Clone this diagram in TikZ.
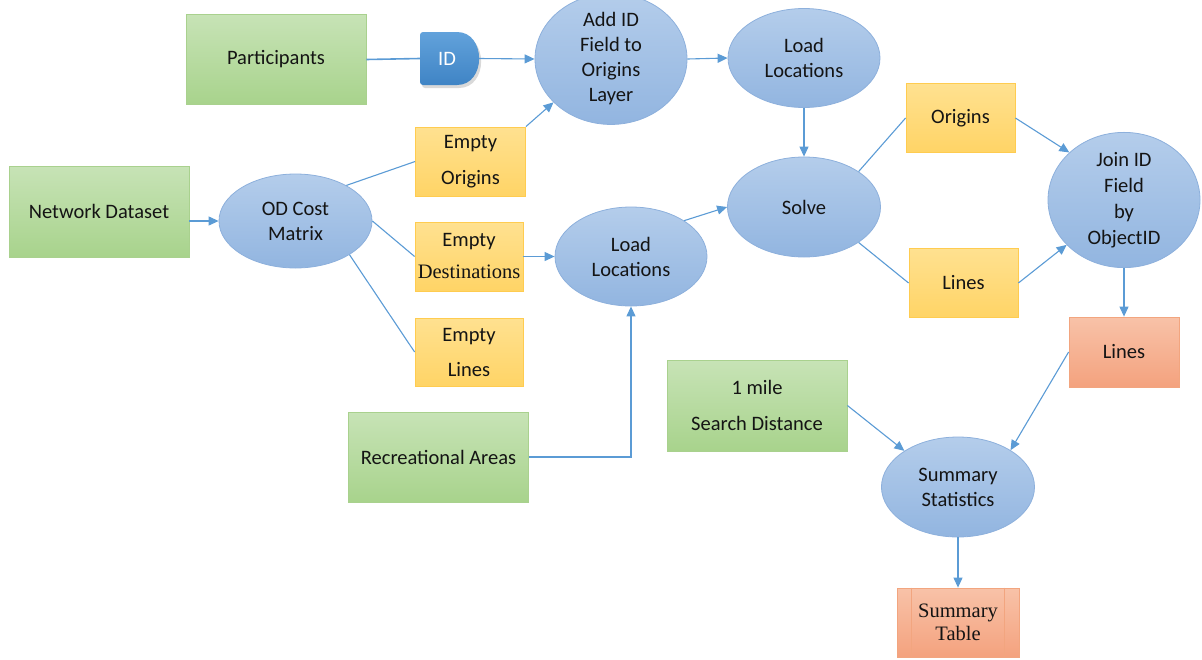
\documentclass[tikz,border=0pt]{standalone}
\usepackage{fontspec}
\setmainfont{Carlito}
\newfontfamily\serifface{Liberation Serif}
\usetikzlibrary{shapes.geometric,arrows.meta,calc}

\definecolor{grnT}{HTML}{C7E3B6}
\definecolor{grnD}{HTML}{A8D38C}
\definecolor{grnB}{HTML}{A9D18E}
\definecolor{ylwT}{HTML}{FFE190}
\definecolor{ylwD}{HTML}{FFD466}
\definecolor{ylwB}{HTML}{FFCC50}
\definecolor{bluT}{HTML}{B4CDEB}
\definecolor{bluD}{HTML}{92B5E0}
\definecolor{bluB}{HTML}{8DB0DC}
\definecolor{salT}{HTML}{F8C2A8}
\definecolor{salD}{HTML}{F4A27E}
\definecolor{salB}{HTML}{F2A57F}
\definecolor{idT}{HTML}{62A2DB}
\definecolor{idD}{HTML}{3F84C5}
\definecolor{link}{HTML}{5B9BD5}

\begin{document}
\begin{tikzpicture}[x=1pt,y=-1pt,
  every node/.style={font=\fontsize{20.5}{25}\selectfont, text=black!92, align=center, inner sep=0pt},
  greenbox/.style={rectangle, draw=grnB, line width=0.8pt, top color=grnT, bottom color=grnD,
    minimum width=180pt, minimum height=90pt},
  yellowbox/.style={rectangle, draw=ylwB, line width=0.8pt, top color=ylwT, bottom color=ylwD,
    minimum width=109pt, minimum height=69pt, font=\fontsize{20.5}{36}\selectfont},
  salmonbox/.style={rectangle, draw=salB, line width=0.8pt, top color=salT, bottom color=salD,
    minimum height=69pt},
  process/.style={ellipse, draw=bluB, line width=0.8pt, top color=bluT, bottom color=bluD,
    minimum width=152pt, minimum height=99pt},
  link/.style={draw=link, line width=1.1pt},
  arr/.style={link, -{Triangle[length=10pt,width=9pt]}}
]
\useasboundingbox (0,0) rectangle (1202,659);

% input data
\node[greenbox] (part) at (276,59.5) {Participants};
\node[greenbox, minimum height=91pt] (net) at (99,211.5) {Network Dataset};
\node[greenbox] (rec) at (438.5,457) {Recreational Areas};
\node[greenbox, minimum height=91pt, font=\fontsize{20.5}{36}\selectfont] (mile) at (757,405.5) {1 mile\\Search Distance};

% ID field tag with a soft shadow
\fill[black!15] (459,35) .. controls (488.5,35) and (488.5,88) .. (459,88)
  [rounded corners=3pt] -- (422,88) -- (422,35) [sharp corners] -- cycle;
\shade[top color=idT, bottom color=idD] (457,32) .. controls (486.5,32) and (486.5,85) .. (457,85)
  [rounded corners=3pt] -- (420,85) -- (420,32) [sharp corners] -- cycle;
\node[text=white, minimum width=59pt, minimum height=53pt] (id) at (449.5,58.5) {ID\hspace{5pt}};

% processes
\node[process, minimum height=102pt] (addid) at (611,59) {Add ID\\Field to\\Origins\\Layer};
\node[process] (lltop) at (804,58) {Load\\Locations};
\node[process, minimum height=94pt, minimum width=153pt] (od) at (295.5,221) {OD Cost\\Matrix};
\node[process] (llbot) at (631,256.5) {Load\\Locations};
\node[process, minimum width=153pt, minimum height=100pt] (solve) at (804,207) {Solve};
\node[process, minimum height=116pt, font=\fontsize{20.5}{26}\selectfont] (join) at (1124,200) {Join ID\\Field\\by\\ObjectID};
\node[process, minimum width=153pt, minimum height=100pt] (summ) at (958,487) {Summary\\Statistics};

% intermediate layers
\node[yellowbox, minimum width=110pt] (eorig) at (470.5,161.5) {Empty\\Origins};
\node[yellowbox, minimum width=108pt, font=\fontsize{20.5}{32}\selectfont] (edest) at (469,256.5) {Empty\\{\serifface Destinations}};
\node[yellowbox, minimum width=108pt, minimum height=68pt, font=\fontsize{20.5}{35}\selectfont] (elines) at (469,352) {Empty\\Lines};
\node[yellowbox] (orig) at (960.5,118) {Origins};
\node[yellowbox] (lines) at (963.5,283) {Lines};

% outputs
\node[salmonbox, minimum width=110pt, minimum height=70pt] (linesout) at (1124,352) {Lines};
\node[salmonbox, minimum width=122pt, font=\fontsize{20.5}{23}\selectfont] (table) at (958,622.5)
  {{\serifface Summary}\\{\serifface Table}};
\draw[salB, line width=0.8pt] ($(table.north west)+(15,0)$) -- ($(table.south west)+(15,0)$);
\draw[salB, line width=0.8pt] ($(table.north east)+(-15,0)$) -- ($(table.south east)+(-15,0)$);

% connectors
\draw[link, line width=1.6pt] (part.east) -- (id.west);
\draw[arr] (id.east) -- (addid.west);
\draw[arr] (addid.east) -- (lltop.west);
\draw[arr] (od.west -| net.east) -- (od.west);
\draw[link] (od.35) -- (eorig.west);
\draw[link] (od.east) -- (edest.west);
\draw[link] (od.-32) -- (elines.west);
\draw[arr] (eorig.north east) -- (addid.217);
\draw[arr] (edest.east) -- (llbot.west);
\draw[arr] (llbot.34) -- (solve.west);
\draw[arr] (lltop.south) -- (solve.north);
\draw[link] (solve.33) -- (orig.west);
\draw[link] (solve.-33) -- (lines.west);
\draw[arr] (orig.east) -- (join.139);
\draw[arr] (lines.east) -- (join.218);
\draw[arr] (join.south) -- (linesout.north);
\draw[arr] (linesout.west) -- (summ.35);
\draw[arr] (mile.east) -- (summ.146);
\draw[arr] (summ.south) -- (table.north);
\draw[arr] (rec.east) -| (llbot.south);
\end{tikzpicture}
\end{document}
